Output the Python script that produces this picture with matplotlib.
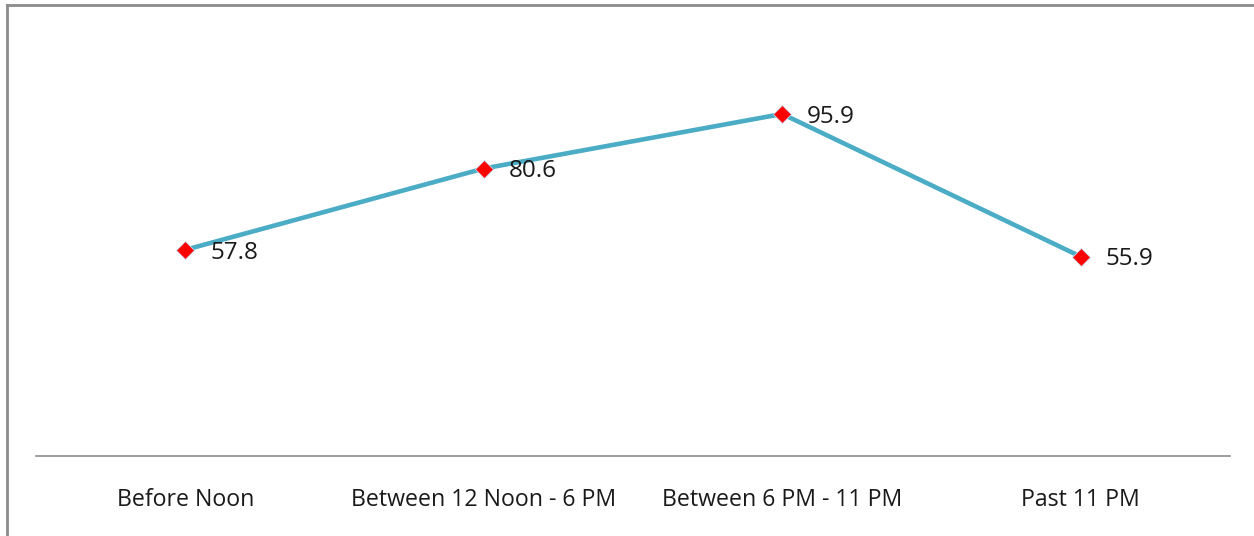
import matplotlib.pyplot as plt
from matplotlib.lines import Line2D

categories = ['Before Noon', 'Between 12 Noon - 6 PM', 'Between 6 PM - 11 PM', 'Past 11 PM']
values = [57.8, 80.6, 95.9, 55.9]

plt.rcParams['font.family'] = ['Open Sans', 'DejaVu Sans']

fig = plt.figure(figsize=(12.54, 5.36), dpi=100)
ax = fig.add_axes([36 / 1254, 80 / 536, 1194 / 1254, 428 / 536])

x = range(len(categories))
ax.plot(x, values, color='#4BACC6', linewidth=3.3, zorder=2)
ax.plot(x, values, linestyle='none', marker='D', markersize=9,
        markerfacecolor='#FF0000', markeredgecolor='#C9D6F0',
        markeredgewidth=0.6, zorder=3)

for xi, v in zip(x, values):
    ax.annotate(f'{v:.1f}', (xi, v), xytext=(18, -2), textcoords='offset points',
                va='center', ha='left', fontsize=17.5, color='#1a1a1a')

ax.set_xlim(-0.5, len(categories) - 0.5)
ax.set_ylim(0, 120)
ax.set_xticks(list(x))
ax.set_xticklabels(categories, fontsize=16.7, color='#1a1a1a')
ax.tick_params(axis='x', length=0, pad=23)
ax.set_yticks([])

for side in ['top', 'right', 'left']:
    ax.spines[side].set_visible(False)
ax.spines['bottom'].set_color('#8C8C8C')
ax.spines['bottom'].set_linewidth(1.2)

# chart area frame (left and top edges)
fig.add_artist(Line2D([7 / 1254, 7 / 1254], [0, 1 - 5 / 536], color='#8C8C8C', linewidth=2))
fig.add_artist(Line2D([7 / 1254, 1], [1 - 5 / 536, 1 - 5 / 536], color='#8C8C8C', linewidth=2))

fig.savefig('out.png', dpi=100)
